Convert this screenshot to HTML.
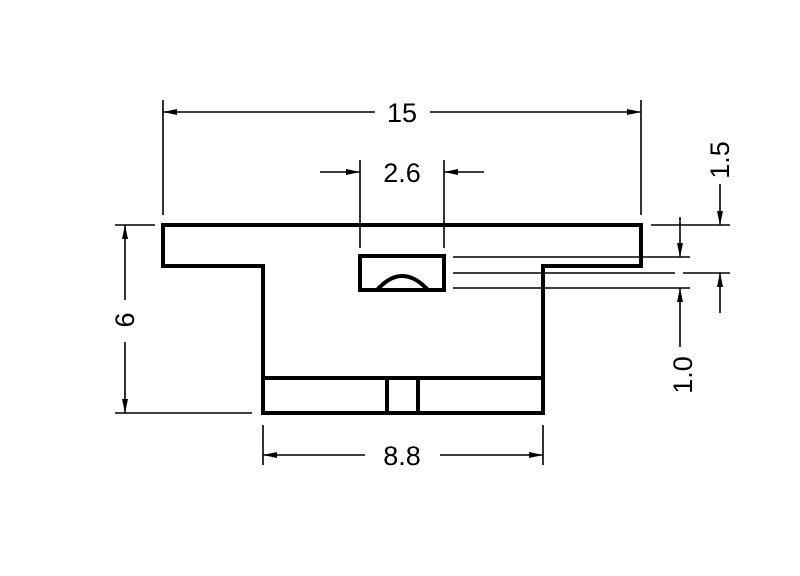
<!DOCTYPE html>
<html><head><meta charset="utf-8"><style>body{margin:0;background:#fff}svg{display:block}</style></head><body>
<svg width="800" height="576" viewBox="0 0 800 576" xmlns="http://www.w3.org/2000/svg" font-family="Liberation Sans, sans-serif">
<defs>
<marker id="a" markerWidth="14" markerHeight="6" refX="14" refY="3" orient="auto" markerUnits="userSpaceOnUse"><path d="M0,0 L14,3 L0,6 z" fill="#000"/></marker>
</defs>
<g fill="none" stroke="#000" stroke-width="4" stroke-linejoin="miter">
<path d="M163,225 H641 V266 H543 V413 H263 V266 H163 Z"/>
<path d="M263,378 H543 M387,378 V413 M418,378 V413"/>
<rect x="360" y="256" width="84" height="34"/>
<path d="M377,290 Q402,262 428,290"/>
</g>
<g stroke="#000" stroke-width="1.6" fill="none">
<!-- 15 -->
<path d="M163,100 V215 M641,100 V215"/>
<path d="M375,112 H163" marker-end="url(#a)"/>
<path d="M430,112 H641" marker-end="url(#a)"/>
<!-- 2.6 -->
<path d="M360,160 V248 M444,160 V248"/>
<path d="M320,172 H360" marker-end="url(#a)"/>
<path d="M484,172 H444" marker-end="url(#a)"/>
<!-- 6 -->
<path d="M115,225 H155 M115,413 H252"/>
<path d="M125,300 V225" marker-end="url(#a)"/>
<path d="M125,342 V413" marker-end="url(#a)"/>
<!-- 8.8 -->
<path d="M263,425 V465 M543,425 V465"/>
<path d="M365,455 H263" marker-end="url(#a)"/>
<path d="M440,455 H543" marker-end="url(#a)"/>
<!-- right side -->
<path d="M453,257 H690 M453,288 H690 M453,273 H675 M683,273 H730 M651,225 H730"/>
<path d="M680,217 V257" marker-end="url(#a)"/>
<path d="M680,347 V288" marker-end="url(#a)"/>
<path d="M720,184 V225" marker-end="url(#a)"/>
<path d="M720,313 V273" marker-end="url(#a)"/>
</g>
<g font-size="27" fill="#000" text-anchor="middle">
<text x="402" y="122">15</text>
<text x="402" y="182">2.6</text>
<text x="402" y="465">8.8</text>
<text transform="translate(134,320) rotate(-90)">6</text>
<text transform="translate(692,375) rotate(-90)">1.0</text>
<text transform="translate(729,160) rotate(-90)">1.5</text>
</g>
</svg>
</body></html>
